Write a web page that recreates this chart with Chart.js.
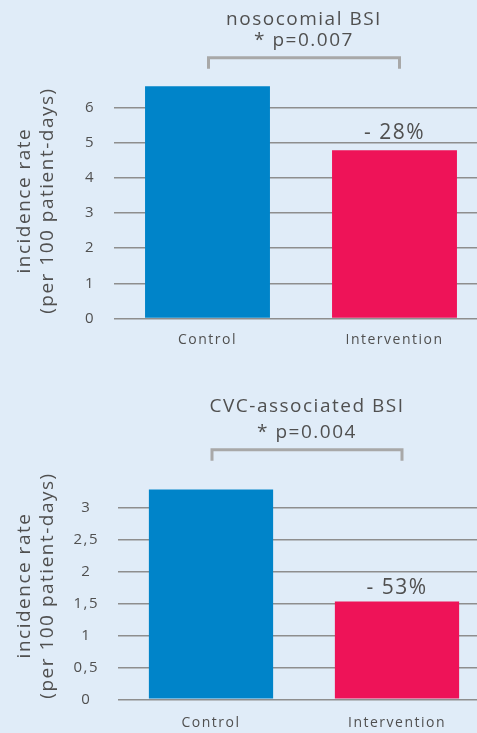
<!DOCTYPE html>
<html>
<head>
<meta charset="utf-8">
<script src="https://cdn.jsdelivr.net/npm/chart.js@4/dist/chart.umd.min.js"></script>
<style>
  html, body { margin: 0; padding: 0; background: #e0ecf8; overflow: hidden; width: 477px; height: 733px; }
  canvas { position: absolute; left: 0; }
  #bsi { top: 0; }
  #cvc { top: 366px; }
</style>
</head>
<body>
<canvas id="bsi" width="492" height="366"></canvas>
<canvas id="cvc" width="492" height="381"></canvas>
<script>
// Data
const categories = ['Control', 'Intervention'];
const bsiValues = [6.6, 4.78];
const cvcValues = [3.28, 1.53];
const bsiTicks = ['0', '1', '2', '3', '4', '5', '6'];
const cvcTicks = ['0', '0,5', '1', '1,5', '2', '2,5', '3'];
const bsiTitle = ['nosocomial BSI', '* p=0.007'];
const cvcTitle = ['CVC-associated BSI', '* p=0.004'];
const changeLabels = ['- 28%', '- 53%'];
const yTitle = ['incidence rate', '(per 100 patient-days)'];

const textColor = '#505050';
Chart.defaults.font.family = "'Open Sans', sans-serif";
Chart.defaults.color = textColor;

// Title, p-value bracket and change label above the bars
const annotate = {
  id: 'annotate',
  beforeUpdate(chart) { chart.ctx.letterSpacing = '1.5px'; },
  beforeDraw(chart) { chart.ctx.letterSpacing = '1.5px'; },
  afterDatasetsDraw(chart, args, opts) {
    const ctx = chart.ctx;
    const bars = chart.getDatasetMeta(0).data;
    const top = chart.chartArea.top;
    const x0 = bars[0].x + 1, x1 = bars[1].x + 5;
    ctx.save();
    ctx.strokeStyle = '#a8a8a8';
    ctx.lineWidth = 3;
    ctx.beginPath();
    ctx.moveTo(x0, top + opts.dropY);
    ctx.lineTo(x0, top + opts.lineY);
    ctx.lineTo(x1, top + opts.lineY);
    ctx.lineTo(x1, top + opts.dropY);
    ctx.stroke();

    ctx.fillStyle = textColor;
    ctx.textAlign = 'center';
    ctx.textBaseline = 'middle';
    ctx.font = "19px 'Open Sans'";
    const cx = (x0 + x1) / 2;
    ctx.fillText(opts.title[0], cx, top + opts.titleY);
    ctx.fillText(opts.title[1], cx, top + opts.pY);
    ctx.font = "21px 'Open Sans'";
    ctx.fillText(opts.change, bars[1].x, bars[1].y + opts.changeY);
    ctx.restore();
  }
};

function makeChart(id, values, tickLabels, yMax, stepSize, axisWidth, layout, xPad, notes) {
  return new Chart(document.getElementById(id), {
    type: 'bar',
    data: {
      labels: categories,
      datasets: [{
        data: values,
        backgroundColor: ['#0084c9', '#ee1358'],
        barPercentage: 0.668,
        categoryPercentage: 1
      }]
    },
    options: {
      responsive: false,
      animation: false,
      layout: { padding: layout },
      plugins: {
        legend: { display: false },
        tooltip: { enabled: false },
        annotate: notes
      },
      scales: {
        x: {
          grid: { display: false, drawTicks: false },
          border: { display: false },
          ticks: { padding: xPad, font: { size: 14 }, color: textColor }
        },
        y: {
          min: 0,
          max: yMax,
          afterBuildTicks: scale => { scale.ticks = scale.ticks.slice(0, tickLabels.length); },
          afterFit: scale => { scale.width = axisWidth; },
          ticks: {
            stepSize: stepSize,
            includeBounds: false,
            padding: 19,
            crossAlign: 'center',
            font: { size: 15 },
            color: textColor,
            callback: (v, i) => tickLabels[i]
          },
          grid: { color: '#8e8e8e', lineWidth: 1.5, drawTicks: false },
          border: { display: false },
          title: {
            display: true,
            text: yTitle,
            color: textColor,
            font: { size: 19, lineHeight: 1.2 },
            padding: { top: 13.5, bottom: 0 }
          }
        }
      }
    },
    plugins: [annotate]
  });
}

// x tick padding is counted twice in the axis height, so bottom padding is set to suit
makeChart('bsi', bsiValues, bsiTicks, 6.7, 1, 114,
  { top: 82.7, right: 4, bottom: 4.5, left: 0 }, 13.1,
  { title: bsiTitle, change: changeLabels[0], titleY: -63, pY: -42, lineY: -25, dropY: -14, changeY: -17 });

makeChart('cvc', cvcValues, cvcTicks, 3.56, 0.5, 118,
  { top: 105.7, right: 2, bottom: 0.3, left: 0 }, 15.3,
  { title: cvcTitle, change: changeLabels[1], titleY: -65, pY: -39, lineY: -22, dropY: -11, changeY: -13 });
</script>
</body>
</html>
